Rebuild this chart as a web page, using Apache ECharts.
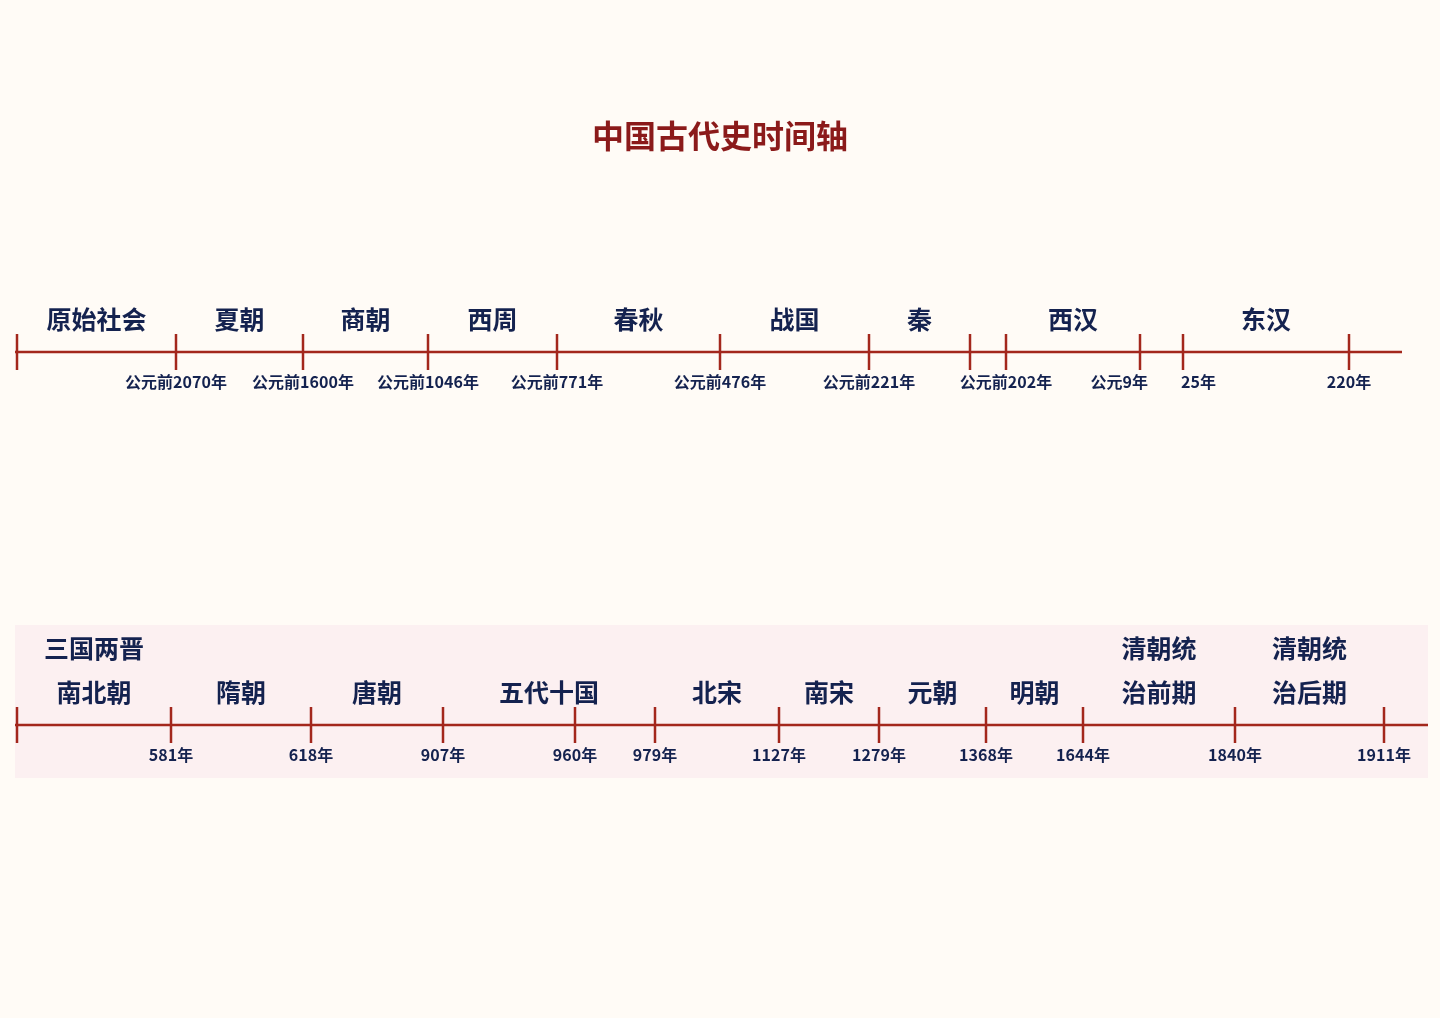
<!DOCTYPE html>
<html><head><meta charset="utf-8">
<script src="https://cdn.jsdelivr.net/npm/echarts@6/dist/echarts.min.js"></script>
<style>html,body{margin:0;padding:0;background:#fffbf6}#c{width:1440px;height:1018px}</style>
</head><body><div id="c"></div>
<script>
// Row 1: boundary positions along the drawn line (0-1440 scale) and their year labels
const topTicks = [17, 176, 303, 428, 557, 720, 869, 970, 1006, 1140, 1183, 1349];
const topYears = ['', '公元前2070年', '公元前1600年', '公元前1046年', '公元前771年', '公元前476年', '公元前221年', '', '公元前202年', '公元9年', '25年', '220年'];
const topEras = ['原始社会', '夏朝', '商朝', '西周', '春秋', '战国', '秦', '西汉', '东汉'];
const topEraSpan = [[0,1],[1,2],[2,3],[3,4],[4,5],[5,6],[6,7],[8,9],[10,11]];
// Row 2
const botTicks = [17, 171, 311, 443, 575, 655, 779, 879, 986, 1083, 1235, 1384];
const botYears = ['', '581年', '618年', '907年', '960年', '979年', '1127年', '1279年', '1368年', '1644年', '1840年', '1911年'];
const botEras = ['三国两晋\n南北朝', '隋朝', '唐朝', '五代十国', '北宋', '南宋', '元朝', '明朝', '清朝统\n治前期', '清朝统\n治后期'];
const botEraSpan = [[0,1],[1,2],[2,3],[3,5],[5,6],[6,7],[7,8],[8,9],[9,10],[10,11]];

const RED = '#a3271c', NAVY = '#14224f';
const FONT = '"Noto Sans CJK SC", sans-serif';

function rowSeries(idx, ticks, years, eras, spans, lineEnd, band) {
  const mids = spans.map(s => (ticks[s[0]] + ticks[s[1]]) / 2);
  const crowded = (i) => {
    const prev = i > 0 ? ticks[i] - ticks[i - 1] : 999, next = i < ticks.length - 1 ? ticks[i + 1] - ticks[i] : 999;
    if (next < 60) return 'right';
    if (prev < 60 && years[i - 1]) return 'left';
    return 'center';
  };
  const s = [
    { type: 'line', xAxisIndex: idx, yAxisIndex: idx, data: [[ticks[0] - 2, 0], [lineEnd, 0]], symbol: 'none',
      lineStyle: { color: RED, width: 2.5 }, silent: true,
      markArea: band ? { silent: true, itemStyle: { color: '#fcf0f1' }, data: [[{ coord: [ticks[0] - 2, 1] }, { coord: [1428, -0.53] }]] } : undefined },
    { type: 'scatter', xAxisIndex: idx, yAxisIndex: idx, symbol: 'rect', symbolSize: [2.5, 36],
      itemStyle: { color: RED, opacity: 1 }, data: ticks.map((t, i) => ({ value: [t, 0], label: { formatter: years[i], align: crowded(i), offset: [crowded(i) === 'right' ? 8 : crowded(i) === 'left' ? -2 : 0, 0] } })),
      label: { show: true, position: 'bottom', distance: 4, color: NAVY, fontSize: 16, fontFamily: FONT, fontWeight: 'bold' } },
    { type: 'scatter', xAxisIndex: idx, yAxisIndex: idx, symbolSize: 1, itemStyle: { opacity: 1, color: 'rgba(0,0,0,0)' },
      data: mids.map((m, i) => ({ value: [m, 0], label: { formatter: eras[i] } })),
      label: { show: true, position: 'top', distance: 10, color: NAVY, fontSize: 25, fontFamily: FONT, fontWeight: 'bold', lineHeight: 44, align: 'center' } }
  ];
  return s;
}

const chart = echarts.init(document.getElementById('c'));
chart.setOption({
  backgroundColor: '#fffbf6',
  animation: false,
  title: { text: '中国古代史时间轴', left: 'center', top: 115, textStyle: { color: '#8b1a1a', fontSize: 32, fontFamily: FONT, fontWeight: 'bold' } },
  grid: [{ left: 0, right: 0, top: 252, height: 200 }, { left: 0, right: 0, top: 625, height: 200 }],
  xAxis: [0, 1].map(g => ({ type: 'value', gridIndex: g, min: 0, max: 1440, show: false })),
  yAxis: [0, 1].map(g => ({ type: 'value', gridIndex: g, min: -1, max: 1, show: false })),
  series: [
    ...rowSeries(0, topTicks, topYears, topEras, topEraSpan, 1402, false),
    ...rowSeries(1, botTicks, botYears, botEras, botEraSpan, 1428, true)
  ]
});
</script></body></html>
